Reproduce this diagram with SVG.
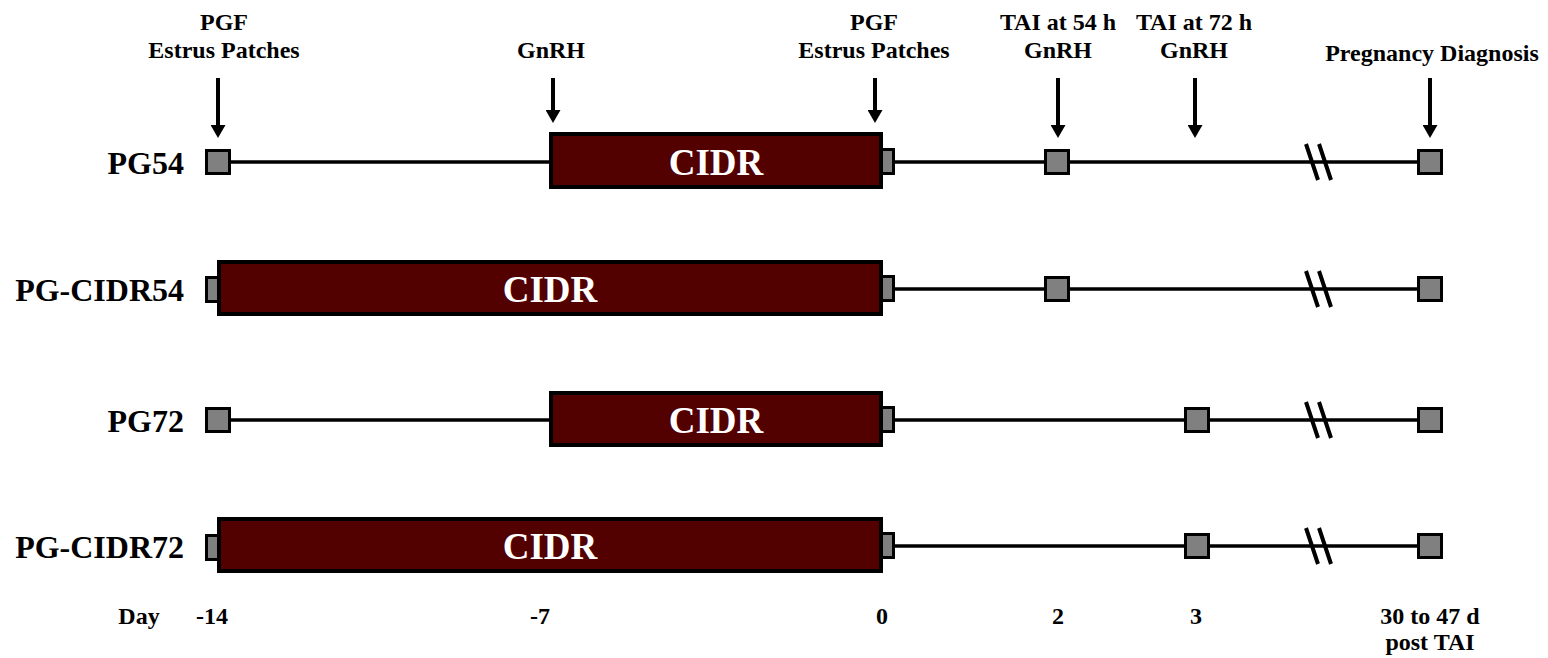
<svg xmlns="http://www.w3.org/2000/svg" width="1548" height="658" viewBox="0 0 1548 658">
<style>
text{font-family:"Liberation Serif","Times New Roman",serif;font-weight:bold;fill:#000}
.top{font-size:24px;text-anchor:middle}
.row{font-size:32px;text-anchor:end}
.cidr-t{font-size:37px;fill:#fff;text-anchor:middle}
.day{font-size:24px;text-anchor:middle}
.tl{stroke:#000;stroke-width:3.5;fill:none}
.brk{stroke:#000;stroke-width:4}
.arr{stroke:#000;stroke-width:4;marker-end:url(#ah)}
.sq{fill:#808080;stroke:#000;stroke-width:3}
.cidr{fill:#520000;stroke:#000;stroke-width:4}
</style>
<defs>
<marker id="ah" viewBox="0 0 13 15" refX="3" refY="7.5" markerWidth="13" markerHeight="15" markerUnits="userSpaceOnUse" orient="auto">
<path d="M0,0 L13,7.5 L0,15 z" fill="#000"/>
</marker>
</defs>
<rect width="1548" height="658" fill="#fff"/>

<g id="top-labels">
<text class="top" x="224" y="30">PGF</text>
<text class="top" x="224" y="58">Estrus Patches</text>
<text class="top" x="551" y="58">GnRH</text>
<text class="top" x="874" y="30">PGF</text>
<text class="top" x="874" y="58">Estrus Patches</text>
<text class="top" x="1058" y="30">TAI at 54 h</text>
<text class="top" x="1058" y="58">GnRH</text>
<text class="top" x="1194" y="30">TAI at 72 h</text>
<text class="top" x="1194" y="58">GnRH</text>
<text class="top" x="1432" y="61">Pregnancy Diagnosis</text>
</g>

<g id="connectors">
<line class="arr" x1="218" y1="78" x2="218" y2="128"/>
<line class="arr" x1="553" y1="78" x2="553" y2="113"/>
<line class="arr" x1="875" y1="78" x2="875" y2="113"/>
<line class="arr" x1="1058" y1="78" x2="1058" y2="128"/>
<line class="arr" x1="1195" y1="78" x2="1195" y2="128"/>
<line class="arr" x1="1430" y1="78" x2="1430" y2="128"/>
<line class="tl" x1="218" y1="162" x2="1430" y2="162"/>
<line class="tl" x1="882" y1="289" x2="1430" y2="289"/>
<line class="tl" x1="218" y1="420" x2="1430" y2="420"/>
<line class="tl" x1="882" y1="546" x2="1430" y2="546"/>
<line class="brk" x1="1306" y1="144" x2="1318" y2="180"/>
<line class="brk" x1="1319" y1="144" x2="1331" y2="180"/>
<line class="brk" x1="1306" y1="271" x2="1318" y2="307"/>
<line class="brk" x1="1319" y1="271" x2="1331" y2="307"/>
<line class="brk" x1="1306" y1="402" x2="1318" y2="438"/>
<line class="brk" x1="1319" y1="402" x2="1331" y2="438"/>
<line class="brk" x1="1306" y1="528" x2="1318" y2="564"/>
<line class="brk" x1="1319" y1="528" x2="1331" y2="564"/>
</g>

<g id="row-PG54">
<text class="row" x="184" y="174">PG54</text>
<rect class="sq" x="206.5" y="150.5" width="23" height="23"/>
<rect class="sq" x="870.5" y="149.5" width="23" height="24"/>
<rect class="sq" x="1045.5" y="150.5" width="23" height="23"/>
<rect class="sq" x="1418.5" y="150.5" width="23" height="23"/>
<rect class="cidr" x="551" y="134" width="330" height="53"/>
<text class="cidr-t" x="716" y="175">CIDR</text>
</g>

<g id="row-PG-CIDR54">
<text class="row" x="184" y="301">PG-CIDR54</text>
<rect class="sq" x="206.5" y="277.5" width="23" height="24"/>
<rect class="sq" x="870.5" y="276.5" width="23" height="24"/>
<rect class="sq" x="1045.5" y="277.5" width="23" height="23"/>
<rect class="sq" x="1418.5" y="277.5" width="23" height="23"/>
<rect class="cidr" x="219" y="262" width="662" height="52"/>
<text class="cidr-t" x="550" y="302">CIDR</text>
</g>

<g id="row-PG72">
<text class="row" x="184" y="432">PG72</text>
<rect class="sq" x="206.5" y="408.5" width="23" height="23"/>
<rect class="sq" x="870.5" y="407.5" width="23" height="24"/>
<rect class="sq" x="1185.5" y="408.5" width="23" height="23"/>
<rect class="sq" x="1418.5" y="408.5" width="23" height="23"/>
<rect class="cidr" x="551" y="393" width="330" height="52"/>
<text class="cidr-t" x="716" y="433">CIDR</text>
</g>

<g id="row-PG-CIDR72">
<text class="row" x="184" y="558">PG-CIDR72</text>
<rect class="sq" x="206.5" y="535.5" width="23" height="24"/>
<rect class="sq" x="870.5" y="533.5" width="23" height="24"/>
<rect class="sq" x="1185.5" y="534.5" width="23" height="23"/>
<rect class="sq" x="1418.5" y="534.5" width="23" height="23"/>
<rect class="cidr" x="219" y="519" width="662" height="52"/>
<text class="cidr-t" x="550" y="559">CIDR</text>
</g>

<g id="day-axis">
<text class="day" x="139" y="624">Day</text>
<text class="day" x="212" y="624">-14</text>
<text class="day" x="540" y="624">-7</text>
<text class="day" x="882" y="624">0</text>
<text class="day" x="1058" y="624">2</text>
<text class="day" x="1196" y="624">3</text>
<text class="day" x="1430" y="624">30 to 47 d</text>
<text class="day" x="1430" y="650">post TAI</text>
</g>
</svg>
